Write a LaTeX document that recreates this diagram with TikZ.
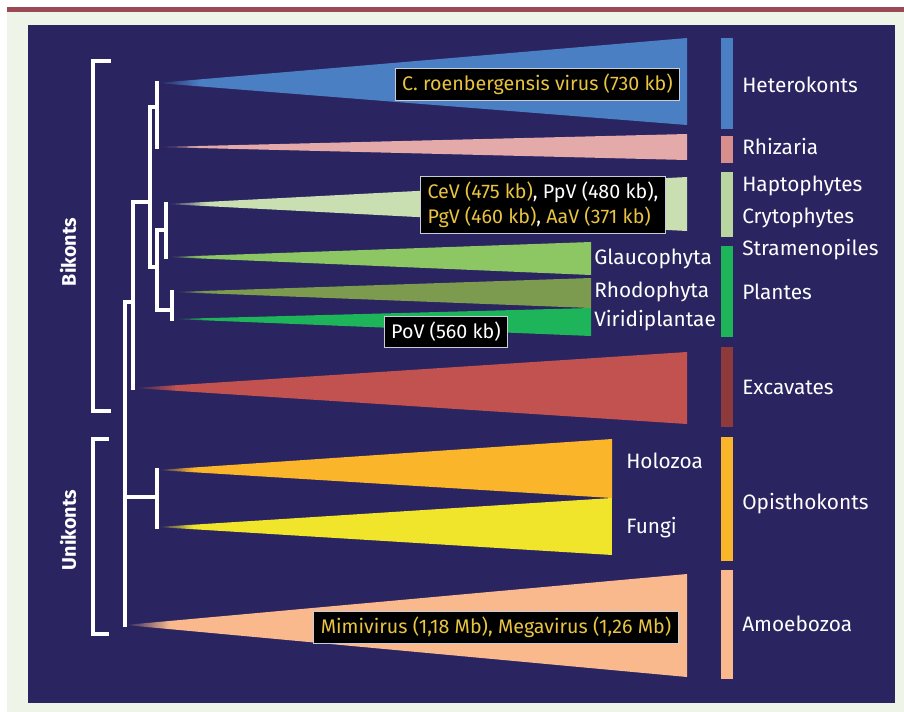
\documentclass[tikz,border=0pt]{standalone}
\usepackage{fontspec}
\setmainfont{Fira Sans}
\usetikzlibrary{calc}
\usetikzlibrary{positioning}

\definecolor{panel}{HTML}{2A2460}
\definecolor{pagebg}{HTML}{EEF4E7}
\definecolor{barred}{HTML}{9B4A55}
\definecolor{boxyellow}{HTML}{E9C440}
\definecolor{boxline}{HTML}{C8CCD8}
\definecolor{hetblue}{HTML}{4A7FC4}
\definecolor{rhipink}{HTML}{E4A9A9}
\definecolor{rhibar}{HTML}{D98E8E}
\definecolor{hapgreen}{HTML}{C9DFB1}
\definecolor{hapbar}{HTML}{B9D6A0}
\definecolor{glagreen}{HTML}{8CC763}
\definecolor{rhoolive}{HTML}{7C9B4F}
\definecolor{virgreen}{HTML}{1EB459}
\definecolor{excred}{HTML}{C2524F}
\definecolor{excbar}{HTML}{8E3A3A}
\definecolor{holorange}{HTML}{FBB52A}
\definecolor{funyellow}{HTML}{F0E52B}
\definecolor{amopeach}{HTML}{F9B98C}

\colorlet{cladecol}{white}
\pgfdeclarehorizontalshading[cladecol,panel]{cladefade}{100bp}{color(0bp)=(panel); color(25bp)=(panel); color(29bp)=(cladecol); color(100bp)=(cladecol)}

\tikzset{
  clade/.style={shading=cladefade, /utils/exec={\colorlet{cladecol}{#1}}},
  branch/.style={draw=white, line width=2.4pt, line cap=rect},
  lbl/.style={text=white, inner sep=0pt, text height=10pt, text depth=0pt,
    font=\fontsize{14.8}{17}\selectfont},
  grouplbl/.style={rotate=90, text=white, font=\fontsize{14}{16}\selectfont\bfseries},
  virusbox/.style={fill=black, draw=boxline, line width=0.6pt, text=boxyellow,
    inner xsep=5pt, inner ysep=4pt, font=\fontsize{14}{18}\selectfont},
}

\begin{document}
\begin{tikzpicture}[x=0.025cm, y=-0.025cm]
\useasboundingbox (0,0) rectangle (904,712);
% page and panel
\fill[white] (0,0) rectangle (904,712);
\fill[pagebg] (7,12) rectangle (904,712);
\fill[barred] (7,7) rectangle (904,12);
\fill[panel] (28,25) rectangle (895,703);

\coordinate (hetA) at (157,83);
\coordinate (rhiA) at (157,147);
\coordinate (hapA) at (166,204);
\coordinate (glaA) at (166,257);
\coordinate (rhoA) at (172,292);
\coordinate (virA) at (172,319);
\coordinate (excA) at (133,388);
\coordinate (holA) at (157,470);
\coordinate (funA) at (157,527);
\coordinate (amoA) at (125,625);
\coordinate (crT) at (150,107);
\coordinate (crB) at (150,267);
\coordinate (hgT) at (157,230);
\coordinate (hgB) at (157,310);
\coordinate (bkT) at (133,202);
\coordinate (rootT) at (125,302);
\coordinate (opN) at (125,497);

% clades
\shade[clade=hetblue] (hetA) -- (687,38) -- (687,125) -- cycle;
\shade[clade=rhipink] (rhiA) -- (687,134) -- (687,160) -- cycle;
\shade[clade=hapgreen] (hapA) -- (687,177) -- (687,231) -- cycle;
\shade[clade=glagreen] (glaA) -- (591,242) -- (591,275) -- cycle;
\shade[clade=rhoolive] (rhoA) -- (591,278) -- (591,308) -- cycle;
\shade[clade=virgreen] (virA) -- (591,308) -- (591,336) -- cycle;
\shade[clade=excred] (excA) -- (687,352) -- (687,424) -- cycle;
\shade[clade=holorange] (holA) -- (612,439) -- (612,498) -- cycle;
\shade[clade=funyellow] (funA) -- (612,498) -- (612,555) -- cycle;
\shade[clade=amopeach] (amoA) -- (687,574) -- (687,677) -- cycle;

% tree
\draw[branch] (hetA) -- (rhiA);
\draw[branch] (crT) -- (crT -| hetA);
\draw[branch] (crT) -- (crB) -- (crB -| hgT);
\draw[branch] (hgT) -- (hgB);
\draw[branch] (hapA) -- (glaA);
\draw[branch] (hgT) -- (hgT -| hapA);
\draw[branch] (rhoA) -- (virA);
\draw[branch] (hgB) -- (hgB -| rhoA);
\draw[branch] (bkT) -- (bkT -| crT);
\draw[branch] (bkT) -- (excA);
\draw[branch] (rootT) -- (rootT -| bkT);
\draw[branch] (rootT) -- (amoA);
\draw[branch] (opN) -- (opN -| holA);
\draw[branch] (holA) -- (funA);

% brackets
\coordinate (bikT) at (109,61);
\coordinate (bikB) at (109,411);
\coordinate (uniT) at (107,439);
\coordinate (uniB) at (107,634);
\draw[branch] (bikT) -- (93,61) |- (bikB);
\draw[branch] (uniT) -- (93,439) |- (uniB);
\node[grouplbl] (bik) at (68,252) {Bikonts};
\node[grouplbl] (uni) at (68,530) {Unikonts};

% side bars
\fill[hetblue] (721,38) rectangle (733,129);
\fill[rhibar] (721,136) rectangle (733,163);
\fill[hapbar] (721,172) rectangle (733,237);
\fill[virgreen] (721,246) rectangle (733,337);
\fill[excbar] (721,347) rectangle (733,427);
\fill[holorange] (721,437) rectangle (733,561);
\fill[amopeach] (721,570) rectangle (733,679);

%%Labels for the groups are typeset.
\node[lbl, right = 0pt of {(742,85.5)}] (lhet) {Heterokonts};
\node[lbl, right = 0pt of {(742,147)}] (lrhi) {Rhizaria};
\node[lbl, right = 0pt of {(742,184.7)}] (lhap) {Haptophytes};
\node[lbl, right = 0pt of {(742,216.8)}] (lcry) {Crytophytes};
\node[lbl, right = 0pt of {(742,248.4)}] (lstr) {Stramenopiles};
\node[lbl, right = 0pt of {(742,292)}] (lpla) {Plantes};
\node[lbl, right = 0pt of {(742,387)}] (lexc) {Excavates};
\node[lbl, right = 0pt of {(742,502.4)}] (lopi) {Opisthokonts};
\node[lbl, right = 0pt of {(742,624)}] (lamo) {Amoebozoa};
\node[lbl, right = 0pt of {(594,257.5)}] (lgla) {Glaucophyta};
\node[lbl, right = 0pt of {(594,290.8)}] (lrho) {Rhodophyta};
\node[lbl, right = 0pt of {(594,319)}] (lvir) {Viridiplantae};
\node[lbl, right = 0pt of {(626,461)}] (lhol) {Holozoa};
\node[lbl, right = 0pt of {(626,526.7)}] (lfun) {Fungi};

%%Virus boxes
\node[virusbox] (vcro) at (537.5,84) {C. roenbergensis virus (730 kb)};
\node[virusbox, text=white, align=left] (vcev) at (543,205)
  {{\color{boxyellow}CeV (475 kb)}, PpV (480 kb),\\{\color{boxyellow}PgV (460 kb)}, {\color{boxyellow}AaV (371 kb)}};
\node[virusbox, text=white] (vpov) at (446,332) {PoV (560 kb)};
\node[virusbox] (vmim) at (496,627.5) {Mimivirus (1,18 Mb), Megavirus (1,26 Mb)};
\end{tikzpicture}
\end{document}
